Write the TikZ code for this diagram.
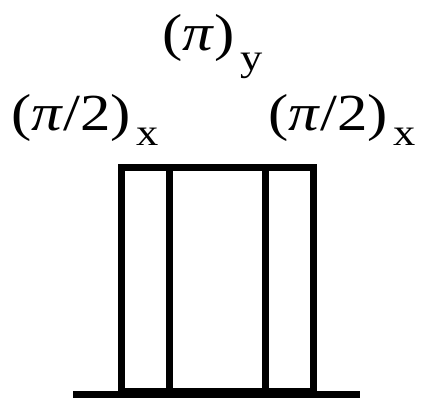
\documentclass[tikz,border=0pt]{standalone}
\usepackage{fontspec}
\setmainfont{Liberation Serif}
\usetikzlibrary{positioning}
\newcommand{\pulselabel}[3]{\scalebox{1.17}[1]{{\fontsize{52}{60}\selectfont #1}\kern5pt{\fontsize{38}{40}\selectfont\raisebox{-#3pt}{#2}}}}
\tikzset{
    pulse/.style={
        rectangle, draw=black, line width=7pt,
        minimum height=224pt, inner sep=0pt, anchor=south
    },
    lbl/.style={inner sep=0pt, anchor=base west}
}
\begin{document}
\begin{tikzpicture}[x=1pt, y=1pt]
    \useasboundingbox (0,0) rectangle (421,399);

    % Pulses
    \node[pulse, minimum width=48pt] (p1) at (145,4) {};
    \node[pulse, minimum width=96pt] (p2) at (217,4) {};
    \node[pulse, minimum width=48pt] (p3) at (289,4) {};

    % Baseline
    \coordinate (b0) at (73,4);
    \coordinate (b1) at (360,4);
    \draw[line width=7pt] (b0) -- (b1);

    % Labels
    \node[lbl] (l1) at (11,268) {\pulselabel{(\textit{π}/2)}{x}{15}};
    \node[lbl] (l2) at (162,348) {\pulselabel{(\textit{π})}{y}{20}};
    \node[lbl] (l3) at (268,268) {\pulselabel{(\textit{π}/2)}{x}{15}};
\end{tikzpicture}
\end{document}
